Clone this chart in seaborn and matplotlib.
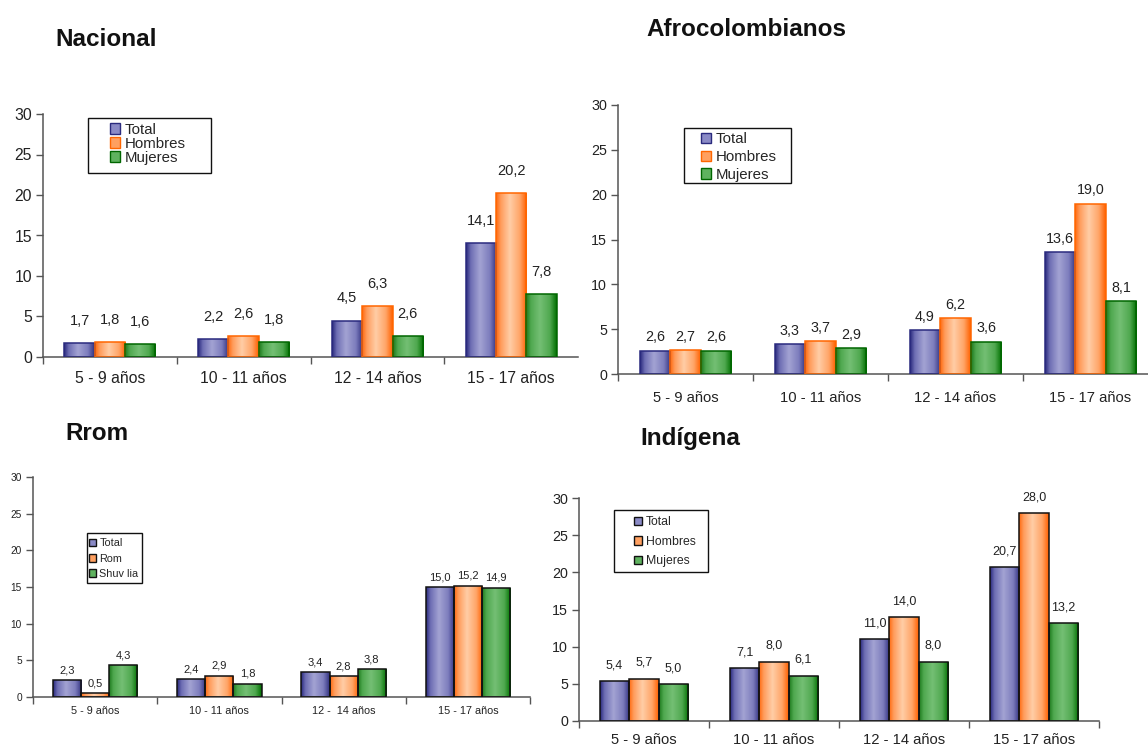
import numpy as np
import pandas as pd
import matplotlib
matplotlib.use("Agg")
import matplotlib.pyplot as plt
import seaborn as sns
from matplotlib.colors import LinearSegmentedColormap
from matplotlib.patches import Patch, Rectangle

# ---------------- data ----------------
grupos = ["5 - 9 años", "10 - 11 años", "12 - 14 años", "15 - 17 años"]
grupos_rrom = ["5 - 9 años", "10 - 11 años", "12 -  14 años", "15 - 17 años"]

series_std = ["Total", "Hombres", "Mujeres"]
series_rrom = ["Total", "Rom", "Shuv lia"]

nac_total = [1.7, 2.2, 4.5, 14.1]
nac_hombres = [1.8, 2.6, 6.3, 20.2]
nac_mujeres = [1.6, 1.8, 2.6, 7.8]

afro_total = [2.6, 3.3, 4.9, 13.6]
afro_hombres = [2.7, 3.7, 6.2, 19.0]
afro_mujeres = [2.6, 2.9, 3.6, 8.1]

rrom_total = [2.3, 2.4, 3.4, 15.0]
rrom_rom = [0.5, 2.9, 2.8, 15.2]
rrom_shuvlia = [4.3, 1.8, 3.8, 14.9]

ind_total = [5.4, 7.1, 11.0, 20.7]
ind_hombres = [5.7, 8.0, 14.0, 28.0]
ind_mujeres = [5.0, 6.1, 8.0, 13.2]

titulos = ["Nacional", "Afrocolombianos", "Rrom", "Indígena"]

# ---------------- style ----------------
sns.set_theme(style="white")
plt.rcParams["font.family"] = ["Liberation Sans", "DejaVu Sans"]

grad_stops = [
    ["#2A2A7E", "#6E6EB4", "#A3A3D3", "#7C7CBC", "#30307F"],
    ["#FF6A10", "#FF9C5C", "#FFCDA6", "#FFA466", "#FF6000"],
    ["#1E7A1E", "#4FA84F", "#74BF74", "#4FA84F", "#007000"],
]
mid_colors = ["#8A8AC6", "#FFA060", "#5FB25F"]
edge_colors = ["#2A2A7E", "#FF6600", "#006600"]
cmaps = [LinearSegmentedColormap.from_list(f"g{i}", list(zip([0, 0.15, 0.45, 0.78, 1.0], s)))
         for i, s in enumerate(grad_stops)]

fig = plt.figure(figsize=(11.48, 7.49), dpi=100)
W, H = 1148, 749


def px_axes(x0, x1, ytop, y0):
    return [x0 / W, 1 - y0 / H, (x1 - x0) / W, (y0 - ytop) / H]


panels = [
    dict(rect=px_axes(43, 578, 114, 357), cats=grupos, series=series_std,
         vals=[nac_total, nac_hombres, nac_mujeres], tick_fs=11.3, ytick_fs=11.3, val_fs=10.5,
         val_pad=11, xpad=10, leg_fs=10.8, leg_anchor=(0.125, 0.963), leg_sp=0.0,
         box=(0.084, 0.757, 0.230, 0.226), black_edge=False, right_tick=False),
    dict(rect=px_axes(618, 1158, 105, 374), cats=grupos, series=series_std,
         vals=[afro_total, afro_hombres, afro_mujeres], tick_fs=10.6, ytick_fs=10.3, val_fs=10.3,
         val_pad=4.5, xpad=12, leg_fs=10.8, leg_anchor=(0.153, 0.898), leg_sp=0.25,
         box=(0.122, 0.710, 0.198, 0.204), black_edge=False, right_tick=False),
    dict(rect=px_axes(33, 530, 477, 697), cats=grupos_rrom, series=series_rrom,
         vals=[rrom_total, rrom_rom, rrom_shuvlia], tick_fs=7.8, ytick_fs=7.3, val_fs=8,
         val_pad=3.5, xpad=6.5, leg_fs=7.8, leg_anchor=(0.112, 0.722), leg_sp=0.5,
         box=(0.109, 0.518, 0.111, 0.227), black_edge=True, right_tick=True),
    dict(rect=px_axes(579, 1099, 498, 721), cats=grupos, series=series_std,
         vals=[ind_total, ind_hombres, ind_mujeres], tick_fs=10.6, ytick_fs=10.3, val_fs=9,
         val_pad=7, xpad=9, leg_fs=8.8, leg_anchor=(0.105, 0.918), leg_sp=0.62,
         box=(0.067, 0.668, 0.181, 0.278), black_edge=True, right_tick=True),
]

spine_col = "#555555"

for p in panels:
    ax = fig.add_axes(p["rect"])
    rows = []
    for s, v in zip(p["series"], p["vals"]):
        for c, val in zip(p["cats"], v):
            rows.append({"grupo": c, "serie": s, "valor": val})
    df = pd.DataFrame(rows)
    sns.barplot(data=df, x="grupo", y="valor", hue="serie", order=p["cats"],
                hue_order=p["series"], palette=mid_colors, width=0.68, saturation=1,
                ax=ax, legend=False)

    for i, cont in enumerate(ax.containers):
        grad = cmaps[i](np.linspace(0, 1, 64))[None, :, :3]
        ec = "#111111" if p["black_edge"] else edge_colors[i]
        for bar in cont:
            x0, w, h = bar.get_x(), bar.get_width(), bar.get_height()
            bar.set_facecolor("none")
            bar.set_edgecolor(ec)
            bar.set_linewidth(1.1)
            bar.set_zorder(3)
            im = ax.imshow(grad, extent=(x0, x0 + w, 0, h), aspect="auto",
                           interpolation="bilinear", zorder=2.5)
            im.set_clip_path(bar)
        labels = [f"{v:.1f}".replace(".", ",") for v in cont.datavalues]
        ax.bar_label(cont, labels=labels, padding=p["val_pad"], fontsize=p["val_fs"],
                     color="#222222")

    ax.set_xlim(-0.5, 3.5)
    ax.set_ylim(0, 30)
    ax.set_yticks(range(0, 31, 5))
    ax.set_xlabel("")
    ax.set_ylabel("")
    ax.set_xticks(range(4))
    ax.set_xticklabels(p["cats"], fontsize=p["tick_fs"], color="#222222")
    bounds = [-0.5, 0.5, 1.5, 2.5] + ([3.5] if p["right_tick"] else [])
    ax.set_xticks(bounds, minor=True)
    ax.tick_params(axis="x", which="major", length=0, pad=p["xpad"])
    ax.tick_params(axis="x", which="minor", length=5, width=1, color=spine_col, bottom=True)
    ax.tick_params(axis="y", length=5, width=1, color=spine_col, left=True, pad=3,
                   labelsize=p["ytick_fs"], labelcolor="#222222")
    for s in ["top", "right"]:
        ax.spines[s].set_visible(False)
    for s in ["left", "bottom"]:
        ax.spines[s].set_color(spine_col)
        ax.spines[s].set_linewidth(1.1)
    ax.grid(False)

    handles = [Patch(facecolor=mid_colors[i], edgecolor=("#111111" if p["black_edge"] else edge_colors[i]),
                     linewidth=1) for i in range(3)]
    ax.legend(handles, p["series"], loc="upper left", bbox_to_anchor=p["leg_anchor"],
              frameon=False, borderpad=0, borderaxespad=0, handlelength=0.7, handleheight=0.7,
              handletextpad=0.3, labelspacing=p["leg_sp"], fontsize=p["leg_fs"])
    bx, by, bw, bh = p["box"]
    ax.add_patch(Rectangle((bx, by), bw, bh, transform=ax.transAxes, fill=False,
                           edgecolor="#111111", linewidth=1, zorder=5, clip_on=False))

title_kw = dict(fontsize=17.5, fontweight="bold", color="#111111", va="center")
fig.text(55 / W, 1 - 40 / H, titulos[0], ha="left", **title_kw)
fig.text(746 / W, 1 - 30 / H, titulos[1], ha="center", **title_kw)
fig.text(65 / W, 1 - 433 / H, titulos[2], ha="left", **title_kw)
fig.text(640 / W, 1 - 438 / H, titulos[3], ha="left", **title_kw)

fig.savefig("out.png", dpi=100)
